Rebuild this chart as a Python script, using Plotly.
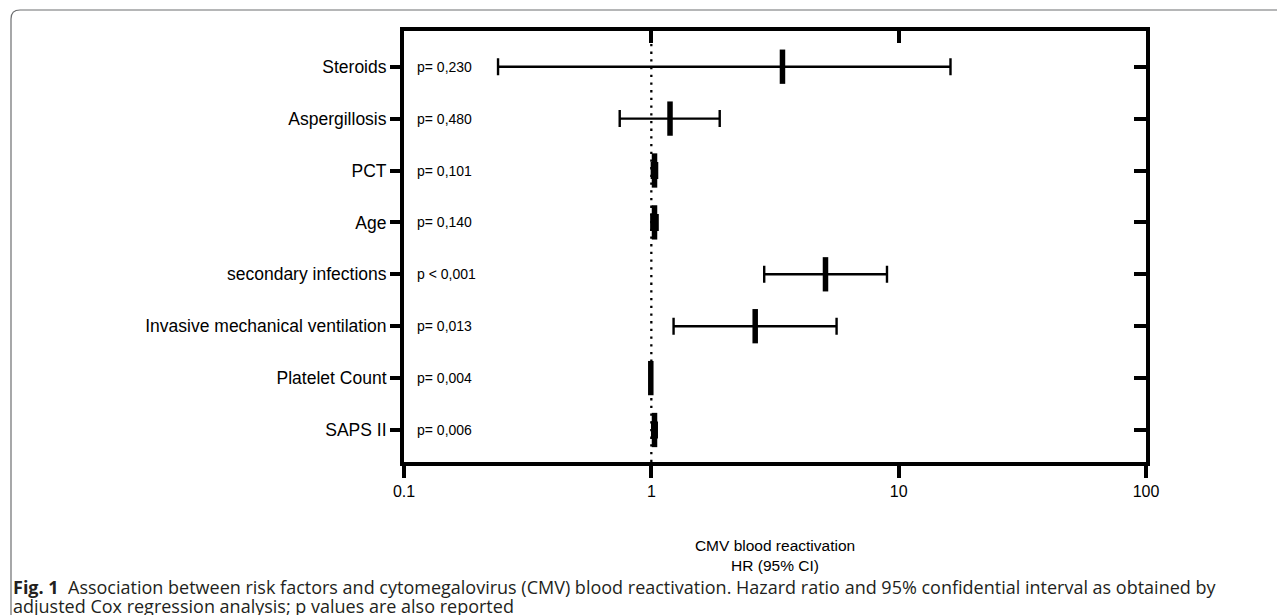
import plotly.graph_objects as go

# ---------------- data ----------------
categories = ["Steroids", "Aspergillosis", "PCT", "Age", "secondary infections",
              "Invasive mechanical ventilation", "Platelet Count", "SAPS II"]
hr = [3.39, 1.19, 1.03, 1.03, 5.06, 2.63, 0.995, 1.03]
ci_low = [0.24, 0.745, 1.005, 1.0, 2.86, 1.23, 0.993, 1.008]
ci_high = [16.2, 1.89, 1.055, 1.06, 8.97, 5.61, 0.997, 1.052]
p_values = ["p= 0,230", "p= 0,480", "p= 0,101", "p= 0,140", "p < 0,001",
            "p= 0,013", "p= 0,004", "p= 0,006"]
x_ticks = [0.1, 1, 10, 100]
x_tick_labels = ["0.1", "1", "10", "100"]
x_title = "CMV blood reactivation<br>HR (95% CI)"
caption_1 = ("<b>Fig. 1</b>\u00a0\u00a0Association between risk factors and cytomegalovirus (CMV) "
             "blood reactivation. Hazard ratio and 95% confidential interval as obtained by")
caption_2 = "adjusted Cox regression analysis; p values are also reported"

# ---------------- layout geometry ----------------
OFF = 8                       # page body margin of the html
W, H = 1285 - OFF, 615 - OFF  # figure size
L, R, T, B = 404 - OFF, 1146 - OFF, 31 - OFF, 462 - OFF
ROW0, ROWSTEP = 66.7 - OFF, 51.9


def px(xp):
    return (xp - L) / (R - L)


def py(yp):
    return (B - yp) / (B - T)


y_top = -(ROW0 - T) / ROWSTEP
y_bot = (len(categories) - 1) + (B - (ROW0 + ROWSTEP * (len(categories) - 1))) / ROWSTEP

err_plus = [h - m for h, m in zip(ci_high, hr)]
err_minus = [m - l for m, l in zip(hr, ci_low)]

FONT = "Liberation Sans, Arial, Helvetica, sans-serif"

fig = go.Figure()
fig.add_trace(go.Scatter(
    x=hr, y=categories, mode="markers",
    marker=dict(symbol="line-ns", size=24.5, color="black",
                line=dict(color="black", width=5.5)),
    error_x=dict(type="data", symmetric=False, array=err_plus, arrayminus=err_minus,
                 color="black", thickness=2.4, width=8.5),
    hoverinfo="skip", showlegend=False,
))
# helper trace to carry the top / right axes
fig.add_trace(go.Scatter(
    x=hr, y=list(range(len(categories))), xaxis="x2", yaxis="y2", mode="markers",
    marker=dict(opacity=0), hoverinfo="skip", showlegend=False,
))

fig.update_layout(
    width=W, height=H,
    margin=dict(l=L, r=W - R, t=T, b=H - B, pad=0),
    paper_bgcolor="white", plot_bgcolor="white",
    font=dict(family=FONT, color="black"),
    xaxis=dict(
        type="log", range=[-1, 2], tickvals=x_ticks, ticktext=x_tick_labels,
        ticks="outside", ticklen=12, tickwidth=4, tickcolor="black",
        showline=True, linewidth=4, linecolor="black", mirror=True,
        showgrid=False, zeroline=False,
        tickfont=dict(size=16, family=FONT, color="black"),
        title=dict(text=x_title, font=dict(size=15.5, family=FONT, color="black"), standoff=42),
    ),
    xaxis2=dict(
        type="log", range=[-1, 2], overlaying="x", side="top", anchor="y",
        tickvals=x_ticks, showticklabels=False,
        ticks="inside", ticklen=12, tickwidth=4, tickcolor="black",
        showline=False, showgrid=False, zeroline=False,
    ),
    yaxis=dict(
        type="category", categoryorder="array", categoryarray=categories,
        range=[y_bot, y_top],
        ticks="outside", ticklen=10, tickwidth=4, tickcolor="black",
        showline=True, linewidth=4, linecolor="black", mirror=True,
        showgrid=False, zeroline=False,
        tickfont=dict(size=17.5, family=FONT, color="black"),
    ),
    yaxis2=dict(
        range=[y_bot, y_top], overlaying="y", side="right", anchor="x",
        tickvals=list(range(len(categories))), showticklabels=False,
        ticks="inside", ticklen=12, tickwidth=4, tickcolor="black",
        showline=False, showgrid=False, zeroline=False,
    ),
)

# reference line at HR = 1
fig.add_shape(type="line", xref="x", yref="paper", x0=1, x1=1, y0=0, y1=1,
              line=dict(color="black", width=2.3, dash="2.3px,5.4px"), layer="below")

# p-value labels
for cat, p in zip(categories, p_values):
    fig.add_annotation(x=-1, y=cat, xref="x", yref="y", text=p, showarrow=False,
                       xanchor="left", yanchor="middle", xshift=11,
                       font=dict(size=14, family=FONT, color="black"))

# figure frame (rounded top-left corner), page coords converted to figure coords
fx, fy = 11 - OFF, 10 - OFF
path = (f"M {px(fx)},{py(H + 5)} L {px(fx)},{py(fy + 9)} "
        f"Q {px(fx)},{py(fy)} {px(fx + 9)},{py(fy)} L {px(W + 5)},{py(fy)}")
fig.add_shape(type="path", xref="paper", yref="paper", path=path,
              line=dict(color="#6d6e70", width=1.2))

# caption
CAP_FONT = "Open Sans, Noto Sans, sans-serif"
fig.add_annotation(x=px(11 - OFF), y=py(587 - OFF), xref="paper", yref="paper", text=caption_1,
                   showarrow=False, xanchor="left", yanchor="middle",
                   font=dict(size=18, family=CAP_FONT, color="#231f20"))
fig.add_annotation(x=px(11 - OFF), y=py(606 - OFF), xref="paper", yref="paper", text=caption_2,
                   showarrow=False, xanchor="left", yanchor="middle",
                   font=dict(size=18, family=CAP_FONT, color="#231f20"))

fig.write_html("out.html")
